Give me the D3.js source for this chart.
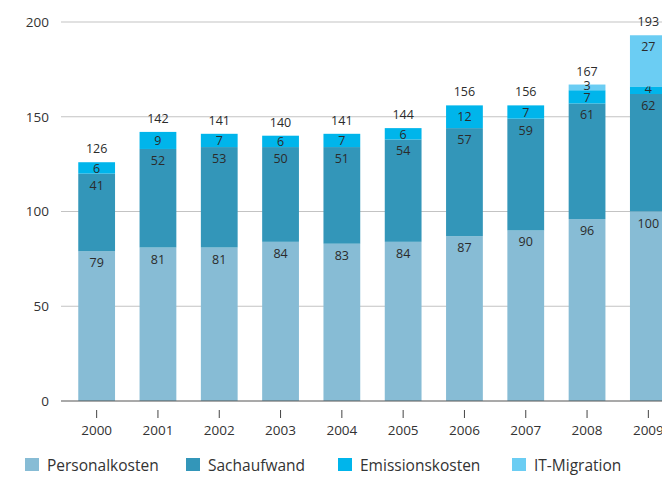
<!DOCTYPE html>
<html lang="de">
<head>
    <meta charset="UTF-8">
    <title>Kosten 2000-2009</title>
    <script src="https://d3js.org/d3.v7.min.js"></script>
    <style>
        body {
            margin: 0;
            padding: 0;
            background-color: #fff;
            font-family: "Open Sans", Arial, sans-serif;
        }
        svg { display: block; }
        .grid line { stroke: #c3c3c3; stroke-width: 1.2; }
        .lbl { fill: #2b2b2b; font-size: 12.5px; text-anchor: middle; }
    </style>
</head>
<body>
    <svg id="chart" width="662" height="477"></svg>
    <script>
        // Data
        var years = ["2000", "2001", "2002", "2003", "2004", "2005", "2006", "2007", "2008", "2009"];
        var personalkosten = [79, 81, 81, 84, 83, 84, 87, 90, 96, 100];
        var sachaufwand = [41, 52, 53, 50, 51, 54, 57, 59, 61, 62];
        var emissionskosten = [6, 9, 7, 6, 7, 6, 12, 7, 7, 4];
        var itMigration = [0, 0, 0, 0, 0, 0, 0, 0, 3, 27];
        var totals = [126, 142, 141, 140, 141, 144, 156, 156, 167, 193];
        var yTicks = [0, 50, 100, 150, 200];

        var seriesNames = ["Personalkosten", "Sachaufwand", "Emissionskosten", "IT-Migration"];
        var colors = ["#87bcd5", "#3396b9", "#00b5eb", "#6bcdf3"];

        var svg = d3.select("#chart");

        var x = d3.scaleBand()
            .domain(years)
            .range([66, 679])
            .paddingInner(0.4)
            .paddingOuter(0.2);

        var y = d3.scaleLinear()
            .domain([0, 200])
            .range([401, 22]);

        // Gridlines
        svg.append("g")
            .attr("class", "grid")
            .selectAll("line")
            .data(yTicks.filter(function(d) { return d > 0; }))
            .enter()
            .append("line")
                .attr("x1", 61).attr("x2", 662)
                .attr("y1", function(d) { return y(d); })
                .attr("y2", function(d) { return y(d); });

        // Y tick labels
        svg.append("g")
            .selectAll("text")
            .data(yTicks)
            .enter()
            .append("text")
                .attr("x", 49)
                .attr("y", function(d) { return y(d); })
                .attr("dy", "0.36em")
                .attr("text-anchor", "end")
                .style("font-size", "13.5px")
                .style("fill", "#333")
                .text(function(d) { return d; });

        // Build stacked table
        var table = years.map(function(yr, i) {
            return {
                year: yr,
                "Personalkosten": personalkosten[i],
                "Sachaufwand": sachaufwand[i],
                "Emissionskosten": emissionskosten[i],
                "IT-Migration": itMigration[i]
            };
        });
        var stacked = d3.stack().keys(seriesNames)(table);

        var layers = svg.append("g")
            .selectAll("g")
            .data(stacked)
            .enter()
            .append("g")
                .attr("fill", function(d, i) { return colors[i]; });

        layers.selectAll("rect")
            .data(function(d) { return d.filter(function(s) { return s[1] - s[0] > 0; }); })
            .enter()
            .append("rect")
                .attr("x", function(d) { return x(d.data.year); })
                .attr("width", x.bandwidth())
                .attr("y", function(d) { return y(d[1]); })
                .attr("height", function(d) { return y(d[0]) - y(d[1]); });

        // Segment value labels
        layers.selectAll("text")
            .data(function(d) { return d.filter(function(s) { return s[1] - s[0] > 0; }); })
            .enter()
            .append("text")
                .attr("class", "lbl")
                .attr("x", function(d) { return x(d.data.year) + x.bandwidth() / 2; })
                .attr("y", function(d) {
                    var h = y(d[0]) - y(d[1]);
                    var off = h < 10 ? h / 2 - 1.5 : Math.min(11.5, h / 2 + 0.5);
                    return y(d[1]) + off;
                })
                .attr("dy", "0.36em")
                .text(function(d) { return d[1] - d[0]; });

        // Totals above bars
        svg.append("g")
            .selectAll("text")
            .data(totals)
            .enter()
            .append("text")
                .attr("class", "lbl")
                .attr("x", function(d, i) { return x(years[i]) + x.bandwidth() / 2; })
                .attr("y", function(d) { return y(d) - 9; })
                .text(function(d) { return d; });

        // X axis line
        svg.append("line")
            .attr("x1", 61).attr("x2", 662)
            .attr("y1", 401).attr("y2", 401)
            .attr("stroke", "#555")
            .attr("stroke-width", 1.2);

        // X ticks and labels
        var xt = svg.append("g")
            .selectAll("g")
            .data(years)
            .enter()
            .append("g")
                .attr("transform", function(d) { return "translate(" + (x(d) + x.bandwidth() / 2) + ",0)"; });
        xt.append("line")
            .attr("y1", 410).attr("y2", 418)
            .attr("stroke", "#444");
        xt.append("text")
            .attr("y", 435)
            .attr("text-anchor", "middle")
            .style("font-size", "13.5px")
            .style("fill", "#333")
            .text(function(d) { return d; });

        // Legend
        var legendX = [25, 186, 338, 512];
        var legend = svg.append("g")
            .selectAll("g")
            .data(seriesNames)
            .enter()
            .append("g")
                .attr("transform", function(d, i) { return "translate(" + legendX[i] + ",458)"; });
        legend.append("rect")
            .attr("width", 14).attr("height", 13)
            .attr("fill", function(d, i) { return colors[i]; });
        legend.append("text")
            .attr("x", 22)
            .attr("y", 13)
            .style("font-size", "15.5px")
            .style("fill", "#333")
            .text(function(d) { return d; });
    </script>
</body>
</html>
